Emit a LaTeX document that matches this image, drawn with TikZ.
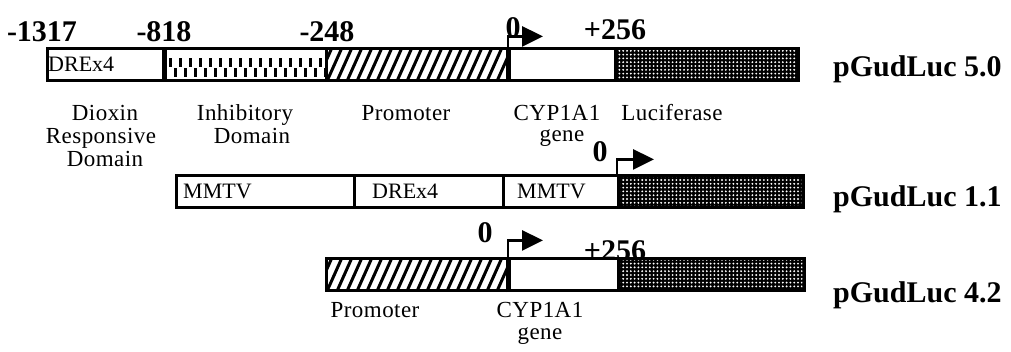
\documentclass[tikz,border=0pt]{standalone}
\usepackage{fontspec}
\setmainfont{Liberation Serif}
\newfontfamily\labfont[LetterSpace=2]{Liberation Serif}
\usetikzlibrary{arrows.meta,patterns,patterns.meta,calc}
\begin{document}
\begin{tikzpicture}[x=1pt,y=1pt,
  seg/.style={draw=black, line width=2.6pt, minimum height=32pt, inner sep=0pt, anchor=south west, rectangle, fill=white},
  hatchbox/.style={seg, path picture={
      \foreach \i in {-3,...,22}{\draw[line width=3pt] ($(path picture bounding box.south west)+(\i*10,-2)$) -- ++(17,38);}}},
  lucbox/.style={seg, fill=black, path picture={
      \fill[pattern={Dots[radius=1.05pt, distance=3.8pt]}, pattern color=white] ([shift={(2,2)}]path picture bounding box.south west) rectangle ([shift={(-2,-2)}]path picture bounding box.north east);}},
  inhbox/.style={seg, path picture={
      \foreach \i in {0,...,16}{
        \draw[line width=2.4pt] ($(path picture bounding box.south west)+(\i*10+6,14)$) -- ++(0,9);
        \draw[line width=2.4pt] ($(path picture bounding box.south west)+(\i*10+11,4)$) -- ++(0,9);}}},
  num/.style={font=\fontsize{30}{30}\selectfont\bfseries, anchor=base, inner sep=0pt},
  plname/.style={font=\fontsize{30}{30}\selectfont\bfseries, anchor=base west, inner sep=0pt},
  lab/.style={font=\fontsize{23}{23}\selectfont\labfont, anchor=base, inner sep=0pt},
  boxtxt/.style={font=\fontsize{22}{22}\selectfont, anchor=west, inner sep=0pt},
  tss/.style={line width=2.6pt, -{Triangle[length=21pt,width=20pt]}}
]
\useasboundingbox (0,0) rectangle (1011,351);

% ---------- row 1 : pGudLuc 5.0 ----------
\node[seg, minimum width=117pt] (dre1) at (46,269) {};
\node[inhbox, minimum width=162pt] (inh1) at (163,269) {};
\node[hatchbox, minimum width=183pt] (pro1) at (325,269) {};
\node[seg, minimum width=106pt] (cyp1) at (508,269) {};
\node[lucbox, minimum width=183pt] (luc1) at (614,269) {};
\draw[line width=5pt] ([xshift=1.5pt]inh1.south west) -- ([xshift=1.5pt]inh1.north west);
\draw[line width=4pt] (cyp1.south west) -- (cyp1.north west);
\node[boxtxt] (t1) at ([xshift=2pt]dre1.west) {DREx4};

\node[num] (n1a) at (42,309) {-1317};
\node[num] (n1b) at (164,309) {-818};
\node[num] (n1c) at (327,309) {-248};
\node[num] (n1d) at (513,313) {0};
\node[num] (n1e) at (615,311) {+256};
\coordinate (a1) at ($(cyp1.north west)+(35,11)$);
\draw[tss] (cyp1.north west) |- (a1);

\node[lab] (l1a) at (105,230) {Dioxin};
\node[lab] (l1b) at (101,207) {Responsive};
\node[lab] (l1c) at (105,184) {Domain};
\node[lab] (l1d) at (245,230) {Inhibitory};
\node[lab] (l1e) at (252,207) {Domain};
\node[lab] (l1f) at (406,230) {Promoter};
\node[lab] (l1g) at (557,230) {CYP1A1};
\node[lab] (l1h) at (562,209) {gene};
\node[lab] (l1i) at (672,230) {Luciferase};
\node[plname] (p1) at (833,274) {pGudLuc 5.0};

% ---------- row 2 : pGudLuc 1.1 ----------
\node[seg, minimum width=178pt] (mm2a) at (175,142) {};
\node[seg, minimum width=149pt] (dre2) at (353,142) {};
\node[seg, minimum width=115pt] (mm2b) at (502,142) {};
\node[lucbox, minimum width=185pt] (luc2) at (617,142) {};
\node[boxtxt] (t2a) at ([xshift=8pt]mm2a.west) {MMTV};
\node[boxtxt] (t2b) at ([xshift=19pt]dre2.west) {DREx4};
\node[boxtxt] (t2c) at ([xshift=15pt]mm2b.west) {MMTV};
\node[num] (n2a) at (600,189) {0};
\coordinate (a2) at ($(luc2.north west)+(37,15)$);
\draw[tss] (luc2.north west) |- (a2);
\node[plname] (p2) at (833,144) {pGudLuc 1.1};

% ---------- row 3 : pGudLuc 4.2 ----------
\node[hatchbox, minimum width=183pt] (pro3) at (325,59) {};
\node[seg, minimum width=109pt] (cyp3) at (508,59) {};
\node[lucbox, minimum width=186pt] (luc3) at (617,59) {};
\draw[line width=4pt] (cyp3.south west) -- (cyp3.north west);
\node[num] (n3a) at (485,109) {0};
\node[num] (n3b) at (615,91) {+256};
\coordinate (a3) at ($(cyp3.north west)+(35,17)$);
\draw[tss] (cyp3.north west) |- (a3);
\node[lab] (l3a) at (375,34) {Promoter};
\node[lab] (l3b) at (540,34) {CYP1A1};
\node[lab] (l3c) at (540,12) {gene};
\node[plname] (p3) at (833,49) {pGudLuc 4.2};
\end{tikzpicture}
\end{document}
